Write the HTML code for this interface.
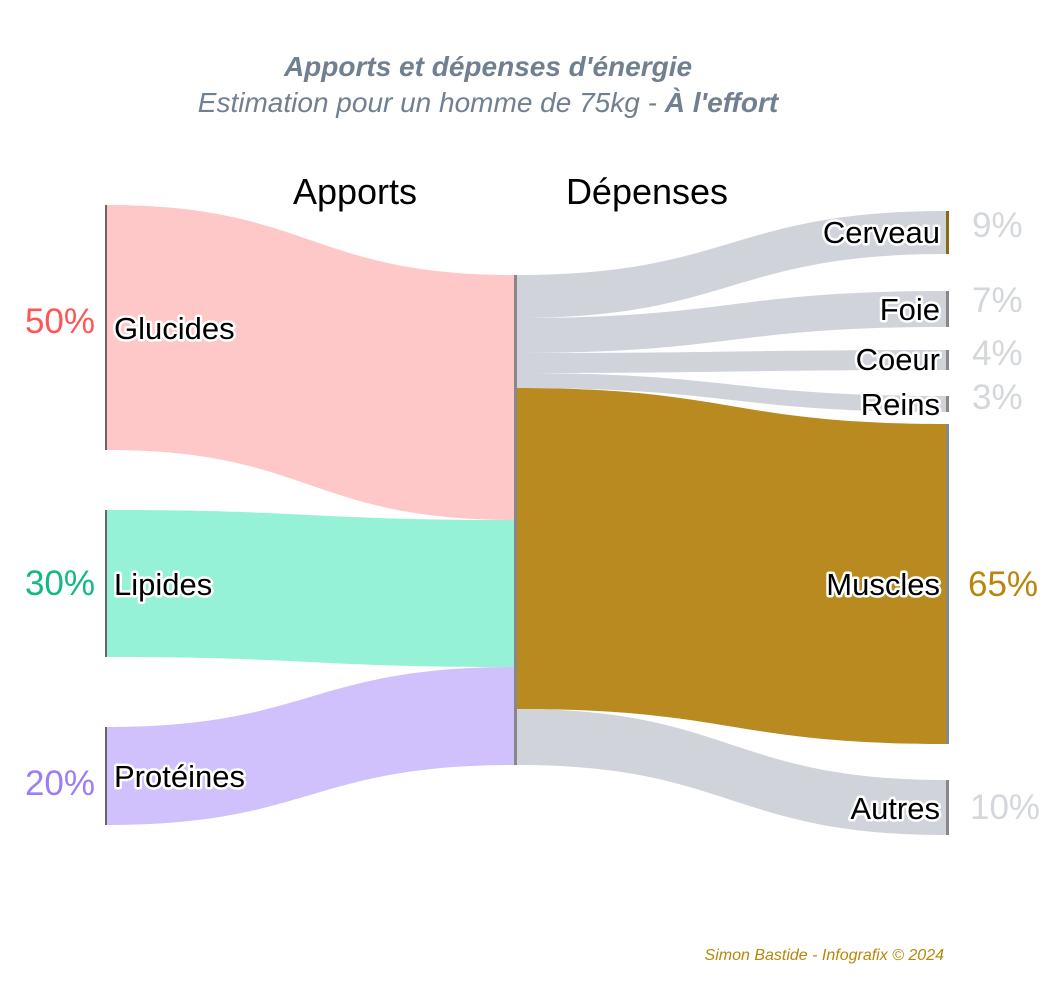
<!DOCTYPE html>
<html><head><meta charset="utf-8"><style>
body{margin:0;background:#fff}
text{font-family:"Liberation Sans",sans-serif}
.h{paint-order:stroke;stroke:#fff;stroke-width:5px;stroke-linejoin:round;fill:#000;font-size:31px}
</style></head><body>
<svg width="1063" height="1000" xmlns="http://www.w3.org/2000/svg">
<text x="488" y="76" text-anchor="middle" font-size="28" font-weight="bold" font-style="italic" fill="#708090">Apports et dépenses d'énergie</text>
<text x="488" y="112" text-anchor="middle" font-size="28" font-style="italic" fill="#708090">Estimation pour un homme de 75kg - <tspan font-weight="bold">À l'effort</tspan></text>
<text x="355" y="204" text-anchor="middle" font-size="36" fill="#000">Apports</text>
<text x="647" y="204" text-anchor="middle" font-size="36" fill="#000">Dépenses</text>
<path d="M107 205 C310 205 310 275 514 275 L514 520 C310 520 310 450 107 450Z" fill="#ffc8c8"/>
<path d="M107 510 C310 510 310 520 514 520 L514 667 C310 667 310 657 107 657Z" fill="#96f2d7"/>
<path d="M107 727 C310 727 310 667 514 667 L514 765 C310 765 310 825 107 825Z" fill="#d0c0fc"/>
<path d="M517 275 C731 275 731 211 946 211 L946 254 C731 254 731 318 517 318Z" fill="#d0d4da"/>
<path d="M517 318 C731 318 731 291 946 291 L946 327 C731 327 731 353 517 353Z" fill="#d0d4da"/>
<path d="M517 353 C731 353 731 350 946 350 L946 370 C731 370 731 373 517 373Z" fill="#d0d4da"/>
<path d="M517 373 C731 373 731 396 946 396 L946 412 C731 412 731 388 517 388Z" fill="#d0d4da"/>
<path d="M517 388 C731 388 731 424 946 424 L946 744 C731 744 731 709 517 709Z" fill="#b88a20"/>
<path d="M517 709 C731 709 731 780 946 780 L946 835 C731 835 731 765 517 765Z" fill="#d0d4da"/>
<g fill="#666">
<rect x="105" y="205" width="2" height="245"/><rect x="105" y="510" width="2" height="147"/><rect x="105" y="727" width="2" height="98"/>
<rect x="514" y="275" width="3" height="490" fill="#888"/>
<rect x="946" y="211" width="3" height="43" fill="#8b6914"/>
<rect x="946" y="291" width="3" height="36" fill="#888"/><rect x="946" y="350" width="3" height="20" fill="#888"/><rect x="946" y="396" width="3" height="16" fill="#888"/>
<rect x="946" y="424" width="3" height="320" fill="#888"/><rect x="946" y="780" width="3" height="55" fill="#888"/>
</g>
<text class="h" x="114" y="339">Glucides</text>
<text class="h" x="114" y="595">Lipides</text>
<text class="h" x="114" y="787">Protéines</text>
<g text-anchor="end">
<text class="h" x="940" y="243">Cerveau</text>
<text class="h" x="940" y="320">Foie</text>
<text class="h" x="940" y="370">Coeur</text>
<text class="h" x="940" y="415">Reins</text>
<text class="h" x="940" y="595">Muscles</text>
<text class="h" x="940" y="819">Autres</text>
<text x="95" y="333" font-size="35" fill="#ff5555">50%</text>
<text x="95" y="595" font-size="35" fill="#14b884">30%</text>
<text x="95" y="795" font-size="35" fill="#9d7cf7">20%</text>
</g>
<g font-size="35" fill="#d4d7dc">
<text x="972" y="237">9%</text><text x="972" y="312">7%</text><text x="972" y="365">4%</text><text x="972" y="409">3%</text>
<text x="968" y="596" fill="#b8860b">65%</text><text x="970" y="819">10%</text>
</g>
<text x="944" y="960" text-anchor="end" font-size="16" font-style="italic" fill="#b8860b">Simon Bastide - Infografix © 2024</text>
</svg>
</body></html>
